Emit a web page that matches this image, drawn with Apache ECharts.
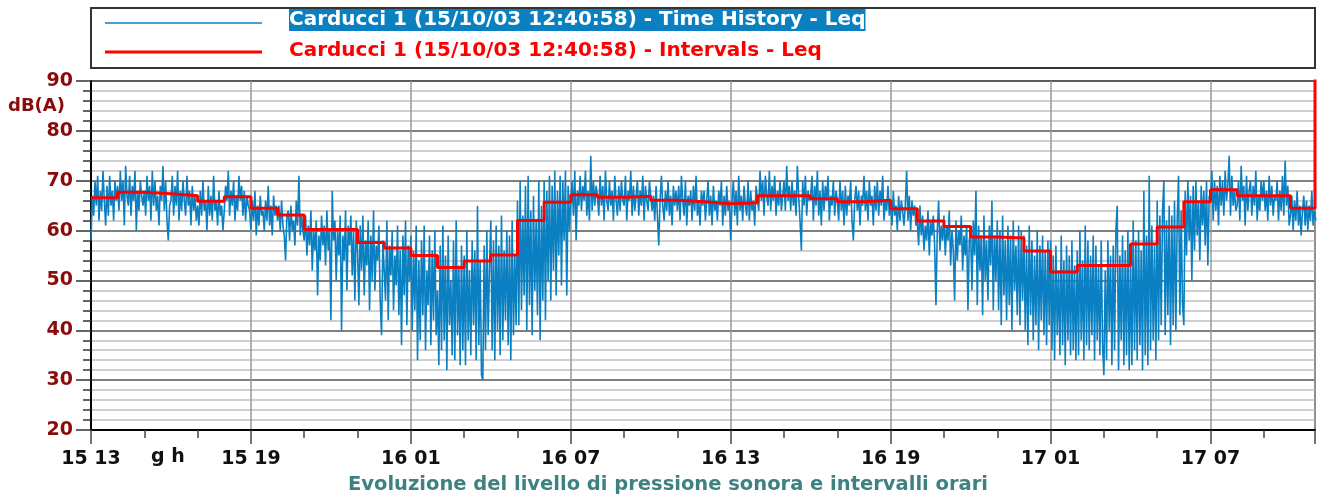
<!DOCTYPE html>
<html>
<head>
<meta charset="utf-8">
<script src="https://cdn.jsdelivr.net/npm/echarts@6/dist/echarts.min.js"></script>
<style>
  html, body { margin: 0; padding: 0; background: #fff; }
  #chart { width: 1322px; height: 501px; }
</style>
</head>
<body>
<div id="chart"></div>
<script>
// time history Leq, one value every 3 minutes, starting 15 13:00 (one row = one hour)
var STEP_H = 0.05;
var timeHistory = [
  58, 67, 63, 70, 65, 71, 62, 68, 64, 72, 66, 61, 69, 63, 71, 65, 68, 62, 70, 66,
  69, 64, 72, 66, 70, 61, 73, 67, 65, 71, 63, 69, 66, 72, 60, 68, 64, 70, 67, 65,
  68, 63, 71, 66, 69, 62, 72, 65, 70, 64, 67, 61, 69, 66, 73, 64, 70, 62, 58, 65,
  66, 71, 63, 69, 65, 72, 62, 68, 64, 70, 66, 63, 71, 65, 68, 61, 69, 64, 67, 62,
  65, 61, 68, 63, 70, 64, 66, 60, 69, 63, 67, 62, 71, 64, 66, 61, 68, 63, 65, 60,
  64, 69, 66, 72, 63, 68, 65, 70, 62, 67, 64, 71, 66, 69, 63, 68, 62, 67, 65, 64,
  60, 66, 62, 68, 59, 65, 61, 67, 63, 64, 60, 66, 62, 69, 61, 65, 59, 67, 63, 65,
  62, 65, 60, 66, 61, 59, 54, 63, 64, 58, 65, 60, 62, 57, 66, 61, 71, 59, 63, 60,
  58, 63, 55, 61, 57, 64, 52, 60, 56, 62, 47, 59, 54, 63, 57, 61, 53, 64, 56, 60,
  42, 68, 58, 62, 50, 60, 55, 63, 40, 59, 54, 64, 48, 61, 57, 63, 51, 60, 46, 62,
  56, 45, 61, 52, 63, 47, 58, 53, 62, 44, 59, 50, 64, 48, 57, 54, 61, 46, 39, 58,
  58, 46, 62, 42, 57, 51, 60, 44, 55, 49, 61, 43, 56, 37, 59, 47, 62, 41, 57, 50,
  59, 40, 56, 44, 61, 34, 54, 38, 58, 43, 61, 36, 52, 45, 59, 37, 56, 42, 60, 39,
  48, 33, 57, 36, 61, 38, 55, 32, 59, 41, 50, 35, 58, 34, 62, 39, 53, 33, 57, 36,
  55, 33, 60, 38, 52, 35, 58, 41, 56, 34, 65, 37, 54, 31, 30, 57, 36, 60, 39, 53,
  62, 36, 58, 34, 61, 40, 57, 35, 63, 38, 56, 42, 60, 37, 59, 34, 62, 39, 55, 41,
  66, 41, 70, 44, 63, 47, 69, 40, 71, 45, 64, 39, 67, 48, 62, 43, 70, 38, 65, 46,
  70, 42, 68, 50, 71, 46, 69, 52, 72, 47, 68, 55, 71, 49, 70, 58, 72, 47, 69, 60,
  66, 70, 63, 72, 58, 68, 65, 71, 64, 69, 66, 72, 63, 68, 62, 75, 64, 70, 65, 69,
  67, 63, 71, 65, 69, 62, 72, 66, 64, 70, 65, 68, 62, 71, 66, 63, 69, 64, 70, 66,
  65, 71, 62, 68, 66, 72, 63, 69, 64, 67, 70, 63, 68, 65, 71, 62, 69, 66, 64, 70,
  70, 64, 67, 62, 69, 63, 57, 66, 71, 65, 62, 68, 64, 70, 63, 67, 61, 69, 65, 68,
  64, 69, 62, 71, 66, 63, 70, 61, 67, 65, 68, 62, 69, 64, 71, 63, 66, 61, 68, 65,
  68, 62, 66, 70, 63, 67, 61, 69, 64, 66, 62, 68, 65, 70, 61, 67, 63, 69, 64, 66,
  58, 66, 70, 63, 68, 61, 71, 64, 67, 62, 69, 65, 63, 70, 62, 68, 64, 66, 61, 69,
  69, 64, 72, 66, 70, 63, 71, 67, 65, 72, 64, 69, 66, 71, 63, 68, 65, 70, 64, 67,
  70, 64, 73, 66, 69, 64, 70, 65, 68, 63, 73, 67, 62, 56, 70, 65, 71, 63, 68, 66,
  67, 71, 62, 69, 65, 72, 63, 68, 61, 70, 64, 69, 66, 71, 62, 67, 65, 70, 63, 68,
  66, 62, 70, 64, 68, 61, 69, 63, 67, 65, 70, 62, 58, 66, 69, 64, 68, 61, 67, 65,
  71, 64, 68, 62, 70, 65, 67, 61, 69, 64, 70, 63, 68, 65, 71, 62, 66, 64, 69, 63,
  66, 61, 68, 63, 65, 60, 67, 62, 66, 64, 61, 65, 72, 62, 67, 60, 66, 63, 65, 61,
  62, 57, 65, 59, 63, 56, 61, 58, 64, 55, 62, 59, 63, 57, 45, 60, 66, 56, 61, 58,
  63, 55, 61, 58, 64, 53, 60, 56, 46, 62, 54, 60, 57, 63, 52, 59, 55, 61, 44, 58,
  60, 48, 62, 55, 68, 45, 61, 52, 59, 43, 63, 50, 58, 46, 61, 53, 66, 44, 59, 50,
  62, 44, 60, 41, 63, 47, 58, 42, 61, 45, 59, 40, 62, 48, 57, 43, 61, 41, 60, 46,
  59, 40, 57, 37, 61, 43, 58, 38, 55, 41, 60, 36, 57, 42, 59, 39, 56, 37, 58, 41,
  58, 36, 55, 34, 57, 39, 52, 35, 59, 37, 54, 33, 57, 38, 55, 35, 58, 36, 53, 34,
  56, 35, 60, 38, 54, 34, 61, 37, 58, 36, 55, 39, 59, 34, 57, 38, 53, 35, 58, 37,
  31, 52, 34, 58, 40, 55, 33, 57, 36, 60, 65, 32, 55, 38, 59, 33, 56, 35, 60, 32,
  54, 33, 62, 36, 58, 34, 60, 37, 56, 32, 68, 35, 59, 33, 71, 36, 61, 38, 57, 34,
  66, 38, 63, 41, 64, 70, 39, 62, 43, 65, 37, 63, 41, 66, 40, 62, 71, 43, 64, 45,
  41, 68, 55, 70, 58, 67, 50, 69, 56, 70, 59, 66, 54, 69, 61, 68, 57, 70, 53, 67,
  66, 72, 62, 70, 64, 69, 61, 71, 65, 70, 63, 72, 66, 69, 75, 63, 71, 65, 68, 64,
  65, 70, 62, 73, 66, 69, 61, 71, 64, 68, 70, 63, 69, 65, 72, 62, 67, 64, 70, 66,
  70, 64, 68, 62, 71, 65, 69, 63, 67, 66, 70, 62, 68, 64, 71, 63, 74, 65, 69, 61,
  63, 67, 60, 66, 62, 68, 61, 65, 59, 64, 67, 61, 66, 60, 65, 62, 68, 61, 64, 62
];
// hourly interval Leq
var intervalLeq = [
  66.6, 67.7, 67.4, 67.0, 65.9, 66.8, 64.5, 63.1, 60.2, 60.2,
  57.6, 56.5, 55.0, 52.6, 53.9, 55.1, 62.0, 65.7, 67.2, 66.7,
  66.9, 66.1, 65.8, 65.4, 65.6, 67.0, 67.0, 66.4, 65.8, 66.1,
  64.4, 61.9, 60.8, 58.7, 58.5, 55.9, 51.7, 53.0, 53.0, 57.3,
  60.7, 65.8, 68.2, 67.0, 67.0, 64.5
];
var endHour = 45.92;
var startDay = 15, startHour = 13;
var seriesNames = [
  'Carducci 1 (15/10/03 12:40:58) - Time History - Leq',
  'Carducci 1 (15/10/03 12:40:58) - Intervals - Leq'
];
var chartTitle = 'Evoluzione del livello di pressione sonora e intervalli orari';

var thData = timeHistory.map(function (v, i) { return [+(i * STEP_H).toFixed(2), v]; });
var ivData = intervalLeq.map(function (v, i) { return [i, v]; });
ivData.push([endHour, intervalLeq[intervalLeq.length - 1]]);
ivData.push([endHour, 100]);

function hourLabel(v) {
  var t = startHour + Math.round(v);
  var d = startDay + Math.floor(t / 24);
  var h = t % 24;
  return d + ' ' + (h < 10 ? '0' + h : h);
}

var chart = echarts.init(document.getElementById('chart'));
chart.setOption({
  animation: false,
  grid: {
    left: 91, right: 7, top: 81, bottom: 71,
    show: true, borderColor: '#444', borderWidth: 1.5
  },
  xAxis: {
    type: 'value', min: 0, max: endHour, interval: 6,
    axisLine: { lineStyle: { color: '#000', width: 2 } },
    axisTick: { show: true, length: 14, lineStyle: { color: '#444', width: 1.5 } },
    minorTick: { show: true, splitNumber: 3, length: 8, lineStyle: { color: '#444', width: 1.5 } },
    axisLabel: {
      margin: 20, color: '#111', fontSize: 19, fontWeight: 'bold',
      fontFamily: 'DejaVu Sans', showMaxLabel: false,
      formatter: hourLabel
    },
    splitLine: { show: true, lineStyle: { color: '#9a9a9a', width: 1.5 } }
  },
  yAxis: {
    type: 'value', min: 20, max: 90, interval: 10,
    axisLine: { show: true, lineStyle: { color: '#000', width: 2 } },
    axisTick: { show: true, length: 15, lineStyle: { color: '#333', width: 1.5 } },
    minorTick: { show: true, splitNumber: 5, length: 8, lineStyle: { color: '#333', width: 1.5 } },
    axisLabel: {
      margin: 18, color: '#8b0a0a', fontSize: 19, fontWeight: 'bold',
      fontFamily: 'DejaVu Sans'
    },
    splitLine: { show: true, lineStyle: { color: '#555', width: 1.5 } },
    minorSplitLine: { show: true, lineStyle: { color: '#d0d0d0', width: 2 } }
  },
  series: [
    {
      name: seriesNames[0], type: 'line', data: thData,
      showSymbol: false, clip: true,
      lineStyle: { color: '#0a80c2', width: 1.6 }
    },
    {
      name: seriesNames[1], type: 'line', data: ivData, step: 'end',
      showSymbol: false, clip: true,
      lineStyle: { color: '#ff0000', width: 3 }
    }
  ],
  graphic: [
    { type: 'rect', shape: { x: 91, y: 8, width: 1224, height: 60 },
      style: { fill: '#fff', stroke: '#333', lineWidth: 2 } },
    { type: 'line', shape: { x1: 105, y1: 23, x2: 262, y2: 23 },
      style: { stroke: '#0a80c2', lineWidth: 1.5 } },
    { type: 'line', shape: { x1: 105, y1: 52, x2: 262, y2: 52 },
      style: { stroke: '#ff0000', lineWidth: 3 } },
    { type: 'text', left: 289, top: 9,
      style: { text: seriesNames[0], fill: '#fff', backgroundColor: '#0a80c0',
        font: 'bold 20px "DejaVu Sans"', padding: [1, 0, 1, 0] } },
    { type: 'text', left: 289, top: 41,
      style: { text: seriesNames[1], fill: '#ff0000',
        font: 'bold 20px "DejaVu Sans"' } },
    { type: 'text', left: 8, top: 97,
      style: { text: 'dB(A)', fill: '#8b0a0a', font: 'bold 18px "DejaVu Sans"' } },
    { type: 'text', left: 151, top: 448,
      style: { text: 'g h', fill: '#111', font: 'bold 19px "DejaVu Sans"' } },
    { type: 'text', left: 348, top: 475,
      style: { text: chartTitle, fill: '#3f8080', font: 'bold 19.5px "DejaVu Sans"' } }
  ]
});
</script>
</body>
</html>
